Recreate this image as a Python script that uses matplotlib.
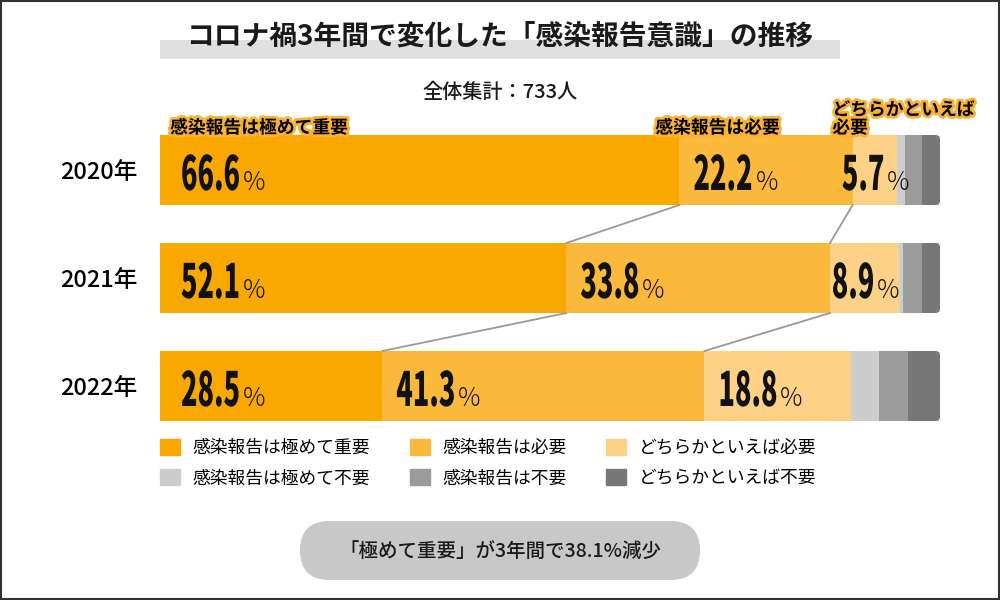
import numpy as np
import matplotlib.pyplot as plt
import matplotlib.patheffects as pe
from matplotlib.text import Text
from matplotlib.transforms import Affine2D, Bbox
from matplotlib.patches import Rectangle, FancyBboxPatch, Patch

plt.rcParams['font.family'] = ['Noto Sans CJK JP', 'DejaVu Sans']

years = ['2020年', '2021年', '2022年']
categories = ['感染報告は極めて重要', '感染報告は必要', 'どちらかといえば必要',
              '感染報告は極めて不要', '感染報告は不要', 'どちらかといえば不要']
very_needed = [66.6, 52.1, 28.5]
needed = [22.2, 33.8, 41.3]
rather_needed = [5.7, 8.9, 18.8]
very_unneeded = [1.0, 0.5, 3.6]
unneeded = [2.2, 2.4, 3.7]
rather_unneeded = [2.3, 2.3, 4.1]
colors = ['#F8A800', '#FBB93B', '#FDD286', '#CDCDCD', '#9B9B9B', '#777777']

series = np.array([very_needed, needed, rather_needed,
                   very_unneeded, unneeded, rather_unneeded])
lefts = np.vstack([np.zeros(3), np.cumsum(series, axis=0)[:-1]])


class Squeeze(pe.AbstractPathEffect):
    """draw text glyphs narrower (no condensed face is installed)"""

    def __init__(self, sx):
        super().__init__()
        self.sx = sx

    def draw_path(self, renderer, gc, tpath, affine, rgbFace=None):
        renderer.draw_path(gc, tpath, Affine2D().scale(self.sx, 1) + affine, rgbFace)


class NarrowText(Text):
    # left aligned text drawn with Squeeze; report the narrow extent
    sx = 1.0

    def get_window_extent(self, renderer=None, dpi=None):
        bb = super().get_window_extent(renderer, dpi)
        return Bbox.from_extents(bb.x0, bb.y0, bb.x0 + bb.width * self.sx, bb.y1)


fig = plt.figure(figsize=(10, 6), dpi=100)

# background layer in pixel coordinates
bg = fig.add_axes([0, 0, 1, 1], zorder=-1)
bg.set_xlim(0, 1000)
bg.set_ylim(600, 0)
bg.axis('off')
bg.add_patch(Rectangle((1, 1), 998, 598, fill=False, ec='#333333', lw=1.5))
bg.add_patch(Rectangle((160, 40), 680, 19, color='#E0E0E0', lw=0))
bg.add_patch(FancyBboxPatch((300, 521), 400, 59,
                            boxstyle='round,pad=0,rounding_size=29.5',
                            fc='#C8C8C8', ec='none'))

fig.text(0.5, 1 - 37 / 600, 'コロナ禍3年間で変化した「感染報告意識」の推移',
         ha='center', va='center', fontsize=20, fontweight='bold', color='#1a1a1a')
fig.text(0.5, 1 - 92 / 600, '全体集計：733人', ha='center', va='center',
         fontsize=14.5, fontweight='medium', color='#1a1a1a')
fig.text(0.5, 1 - 551 / 600, '「極めて重要」が3年間で38.1%減少', ha='center',
         va='center', fontsize=14, fontweight='medium', color='#1a1a1a')

# bar axes: x 160..940 px, y 116..440 px
ax = fig.add_axes([0.16, 1 - 440 / 600, 0.78, 324 / 600])
ax.set_xlim(0, 100)
ax.set_ylim(2.5, -0.5)
h = 70 / 108
ypos = np.arange(3)

# rounded right end of each bar
aspect = (1 / 108) / (1 / 7.8)
clips = []
for i in ypos:
    cp = FancyBboxPatch((-10, i - h / 2), 110, h,
                        boxstyle='round,pad=0,rounding_size=0.55',
                        mutation_aspect=aspect, transform=ax.transData,
                        fc='none', ec='none')
    ax.add_patch(cp)
    clips.append(cp)

for k in range(6):
    bars = ax.barh(ypos, series[k], left=lefts[k], height=h,
                   color=colors[k], lw=0, label=categories[k])
    for i, b in enumerate(bars):
        b.set_clip_path(clips[i])

# connector lines between years
for k in range(2):
    ends = lefts[k + 1]
    for i in range(2):
        ax.plot([ends[i], ends[i + 1]], [i + h / 2, i + 1 - h / 2],
                color='#999999', lw=1.3, zorder=1)

ax.set_yticks(ypos, years, fontsize=17, fontweight='medium')
ax.tick_params(axis='y', length=0, pad=16)
ax.set_xticks([])
for s in ax.spines.values():
    s.set_visible(False)

# value labels: tall narrow number + thin percent sign
base = 0.185
labels = []
for k in range(3):
    for i in ypos:
        v = series[k][i]
        t = NarrowText(0, i + base, f'{v:.1f}', ha='left', va='baseline',
                       fontsize=34, fontweight='heavy', color='#111111',
                       zorder=3, transform=ax.transData)
        ax.add_artist(t)
        p = ax.text(0, i + base, '%', ha='left', va='baseline', fontsize=18,
                    fontweight='light', color='#111111', zorder=3)
        labels.append((k, i, v, t, p))

fig.canvas.draw()
r = fig.canvas.get_renderer()
unit = ax.get_window_extent(r).width / 100
sx = 59 / labels[1][3].get_window_extent(r).width
for k, i, v, t, p in labels:
    t.set_path_effects([Squeeze(sx)])
    t.sx = sx
    nw = t.get_window_extent(r).width / unit
    pw = p.get_window_extent(r).width / unit
    gap = 3 / unit
    if v > 12:
        x0 = lefts[k][i] + (21 if k == 0 else 14) / unit
    else:
        x0 = lefts[k][i] + v / 2 - (nw + gap + pw) / 2 + 1 / unit
    t.set_x(x0)
    p.set_x(x0 + nw + gap)

# category labels above bars
halo = [pe.withStroke(linewidth=4, foreground='#F9B233')]
top = -h / 2 + 0.02
ax.text(1.3, top, '感染報告は極めて重要', ha='left', va='bottom', fontsize=12.8,
        fontweight='bold', path_effects=halo, zorder=4)
ax.text(lefts[1][0] - 3.1, top, '感染報告は必要', ha='left', va='bottom',
        fontsize=12.8, fontweight='bold', path_effects=halo, zorder=4)
ax.text(lefts[2][0] - 2.6, top, 'どちらかといえば\n必要', ha='left', va='bottom',
        fontsize=12.8, fontweight='bold', path_effects=halo, zorder=4,
        linespacing=1.0, clip_on=False)

handles = [Patch(color=colors[j], label=categories[j]) for j in [0, 3, 1, 4, 2, 5]]
fig.legend(handles=handles, loc='upper left', ncol=3, frameon=False,
           bbox_to_anchor=(0.16, 1 - 439 / 600), bbox_transform=fig.transFigure,
           borderaxespad=0, borderpad=0, fontsize=12.8, handlelength=1.15,
           handleheight=1.0, handletextpad=0.7, columnspacing=2.2,
           labelspacing=0.7)

fig.savefig('out.png', dpi=100)
